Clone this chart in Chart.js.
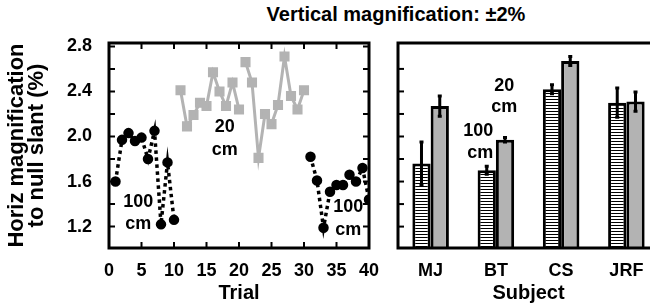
<!DOCTYPE html>
<html>
<head>
<meta charset="utf-8">
<script src="https://cdn.jsdelivr.net/npm/chart.js@4.4.0/dist/chart.umd.min.js"></script>
<style>
  body { margin: 0; width: 650px; height: 306px; overflow: hidden; background: #fff; position: relative; }
  #title { position: absolute; top: 3px; left: 146px; width: 500px; text-align: center;
           font: bold 20px "Liberation Sans", Arial, sans-serif; color: #000; }
  #trialChart { position: absolute; left: 0; top: 0; }
  #subjectChart { position: absolute; left: 385px; top: 0; }
</style>
</head>
<body>
<div id="title">Vertical magnification: ±2%</div>
<canvas id="trialChart" width="385" height="306"></canvas>
<canvas id="subjectChart" width="290" height="306"></canvas>
<script>
// left panel: trial by trial
const trialsNearA = [1, 2, 3, 4, 5, 6, 7, 8, 9, 10];
const nearA = [1.60, 1.97, 2.03, 1.96, 1.99, 1.80, 2.05, 1.22, 1.77, 1.26];
const trialsFarA = [11, 12, 13, 14, 15, 16, 17, 18, 19, 20];
const farA = [2.41, 2.09, 2.19, 2.30, 2.27, 2.57, 2.40, 2.27, 2.48, 2.24];
const trialsFarB = [21, 22, 23, 24, 25, 26, 27, 28, 29, 30];
const farB = [2.66, 2.48, 1.81, 2.20, 2.11, 2.28, 2.71, 2.36, 2.24, 2.41];
const trialsNearB = [31, 32, 33, 34, 35, 36, 37, 38, 39, 40];
const nearB = [1.82, 1.61, 1.19, 1.51, 1.57, 1.57, 1.66, 1.60, 1.72, 1.44];

const trialTicks = [0, 5, 10, 15, 20, 25, 30, 35, 40];
const yTicks = [1.2, 1.4, 1.6, 1.8, 2.0, 2.2, 2.4, 2.6, 2.8];
const yLabels = ['1.2', '1.6', '2.0', '2.4', '2.8'];

// right panel: means per subject
const subjects = ['MJ', 'BT', 'CS', 'JRF'];
const mean100 = [1.76, 1.70, 2.42, 2.30];
const err100 = [0.19, 0.035, 0.04, 0.13];
const mean20 = [2.27, 1.97, 2.67, 2.31];
const err20 = [0.09, 0.02, 0.04, 0.085];

const trialNotes = [
    { text: '100', x: 4.5, y: 1.42 }, { text: 'cm', x: 4.5, y: 1.22 },
    { text: '20', x: 17.8, y: 2.08 }, { text: 'cm', x: 17.8, y: 1.88 },
    { text: '100', x: 36.8, y: 1.37 }, { text: 'cm', x: 36.8, y: 1.17 }
];
const subjectNotes = [
    { text: '20', x: 1.13, y: 2.45 }, { text: 'cm', x: 1.13, y: 2.26 },
    { text: '100', x: 0.73, y: 2.05 }, { text: 'cm', x: 0.76, y: 1.85 }
];

const yMin = 1.01, yMax = 2.83;
const FONT = '"Liberation Sans", Arial, sans-serif';
const GRAY = '#b3b3b3';

function pts(xs, ys) {
    return xs.map((x, i) => ({ x: x, y: ys[i] }));
}

// box round the plot with inward ticks
const framePlugin = {
    id: 'frame',
    afterDatasetsDraw(chart, args, opts) {
        const ctx = chart.ctx, a = chart.chartArea;
        ctx.save();
        ctx.strokeStyle = '#000';
        ctx.lineWidth = 2;
        (opts.yTicks || []).forEach(v => {
            const py = chart.scales.y.getPixelForValue(v);
            ctx.beginPath();
            ctx.moveTo(a.left, py); ctx.lineTo(a.left + 6, py);
            if (opts.rightTicks) { ctx.moveTo(a.right, py); ctx.lineTo(a.right - 6, py); }
            ctx.stroke();
        });
        (opts.xTicks || []).forEach(v => {
            const px = chart.scales.x.getPixelForValue(v);
            ctx.beginPath();
            ctx.moveTo(px, a.bottom); ctx.lineTo(px, a.bottom - 6);
            ctx.moveTo(px, a.top); ctx.lineTo(px, a.top + 6);
            ctx.stroke();
        });
        ctx.lineWidth = 3;
        ctx.strokeRect(a.left, a.top, a.right - a.left, a.bottom - a.top);
        ctx.restore();
    }
};

const notesPlugin = {
    id: 'notes',
    afterDatasetsDraw(chart, args, opts) {
        const ctx = chart.ctx;
        ctx.save();
        ctx.fillStyle = '#000';
        ctx.font = 'bold 18px ' + FONT;
        ctx.textAlign = 'center';
        ctx.textBaseline = 'middle';
        (opts.items || []).forEach(n => {
            ctx.fillText(n.text, chart.scales.x.getPixelForValue(n.x), chart.scales.y.getPixelForValue(n.y));
        });
        ctx.restore();
    }
};

const errorPlugin = {
    id: 'errbars',
    afterDatasetsDraw(chart, args, opts) {
        const ctx = chart.ctx, y = chart.scales.y;
        ctx.save();
        ctx.strokeStyle = '#000';
        ctx.lineWidth = 3;
        (opts.errors || []).forEach((errs, di) => {
            const meta = chart.getDatasetMeta(di);
            const vals = chart.data.datasets[di].data;
            meta.data.forEach((bar, i) => {
                const top = y.getPixelForValue(vals[i] + errs[i]);
                const bot = y.getPixelForValue(vals[i] - errs[i]);
                ctx.beginPath();
                ctx.moveTo(bar.x, top); ctx.lineTo(bar.x, bot);
                ctx.moveTo(bar.x - 2, top); ctx.lineTo(bar.x + 2, top);
                ctx.moveTo(bar.x - 2, bot); ctx.lineTo(bar.x + 2, bot);
                ctx.stroke();
            });
        });
        ctx.restore();
    }
};

function hatch() {
    const c = document.createElement('canvas');
    c.width = 4; c.height = 3;
    const g = c.getContext('2d');
    g.fillStyle = '#fff'; g.fillRect(0, 0, 4, 3);
    g.fillStyle = '#000'; g.fillRect(0, 0, 4, 1);
    return g.createPattern(c, 'repeat');
}

Chart.defaults.font.family = FONT;
Chart.defaults.color = '#000';

const nearStyle = {
    borderColor: '#000', borderWidth: 3.5, borderDash: [3.5, 3.5],
    pointStyle: 'circle', pointRadius: 3.5, pointBackgroundColor: '#000', pointBorderColor: '#000',
    tension: 0
};
const farStyle = {
    borderColor: GRAY, borderWidth: 3,
    pointStyle: 'rect', pointRadius: 5, pointBackgroundColor: GRAY, pointBorderColor: GRAY,
    tension: 0
};

new Chart(document.getElementById('trialChart'), {
    type: 'line',
    data: {
        datasets: [
            Object.assign({ label: '100 cm', data: pts(trialsNearA, nearA) }, nearStyle),
            Object.assign({ label: '20 cm', data: pts(trialsFarA, farA) }, farStyle),
            Object.assign({ label: '20 cm', data: pts(trialsFarB, farB) }, farStyle),
            Object.assign({ label: '100 cm', data: pts(trialsNearB, nearB) }, nearStyle)
        ]
    },
    options: {
        responsive: false,
        animation: false,
        layout: { padding: { top: 43, right: 16, left: 0, bottom: 0 } },
        plugins: {
            legend: { display: false },
            tooltip: { enabled: false },
            frame: { yTicks: yTicks, rightTicks: true, xTicks: trialTicks.slice(1, -1) },
            notes: { items: trialNotes }
        },
        scales: {
            x: {
                type: 'linear', min: 0, max: 40,
                afterBuildTicks: s => { s.ticks = trialTicks.map(v => ({ value: v })); },
                afterFit: s => { s.height = 58; },
                grid: { display: false },
                border: { display: false },
                ticks: { autoSkip: false, maxRotation: 0, padding: 4, font: { size: 18, weight: 'bold' } },
                title: { display: true, text: 'Trial', font: { size: 20, weight: 'bold', lineHeight: 1.1 }, padding: { bottom: 2 } }
            },
            y: {
                min: yMin, max: yMax,
                afterBuildTicks: s => { s.ticks = yTicks.map(v => ({ value: v })); },
                afterFit: s => { s.width = 109; },
                grid: { display: false },
                border: { display: false },
                ticks: {
                    autoSkip: false, padding: 9, font: { size: 18, weight: 'bold' },
                    callback: v => { const t = v.toFixed(1); return yLabels.includes(t) ? t : ''; }
                },
                title: {
                    display: true, text: ['Horiz magnification', 'to null slant (%)'],
                    font: { size: 22, weight: 'bold', lineHeight: 0.95 }, padding: { top: 6 }
                }
            }
        }
    },
    plugins: [framePlugin, notesPlugin]
});

new Chart(document.getElementById('subjectChart'), {
    type: 'bar',
    data: {
        labels: subjects,
        datasets: [
            { label: '100 cm', data: mean100, backgroundColor: hatch(), borderColor: '#000', borderWidth: 3,
              categoryPercentage: 0.56, barPercentage: 1.0 },
            { label: '20 cm', data: mean20, backgroundColor: GRAY, borderColor: '#000', borderWidth: 3,
              categoryPercentage: 0.56, barPercentage: 1.0 }
        ]
    },
    options: {
        responsive: false,
        animation: false,
        layout: { padding: { top: 43, right: 16, left: 13, bottom: 0 } },
        plugins: {
            legend: { display: false },
            tooltip: { enabled: false },
            frame: { yTicks: yTicks.slice(0, -1) },
            notes: { items: subjectNotes },
            errbars: { errors: [err100, err20] }
        },
        scales: {
            x: {
                afterFit: s => { s.height = 58; },
                grid: { display: false },
                border: { display: false },
                ticks: { padding: 4, font: { size: 18, weight: 'bold' } },
                title: { display: true, text: 'Subject', font: { size: 20, weight: 'bold', lineHeight: 1.1 }, padding: { bottom: 2 } }
            },
            y: { display: false, min: yMin, max: yMax }
        }
    },
    plugins: [errorPlugin, framePlugin, notesPlugin]
});
</script>
</body>
</html>
